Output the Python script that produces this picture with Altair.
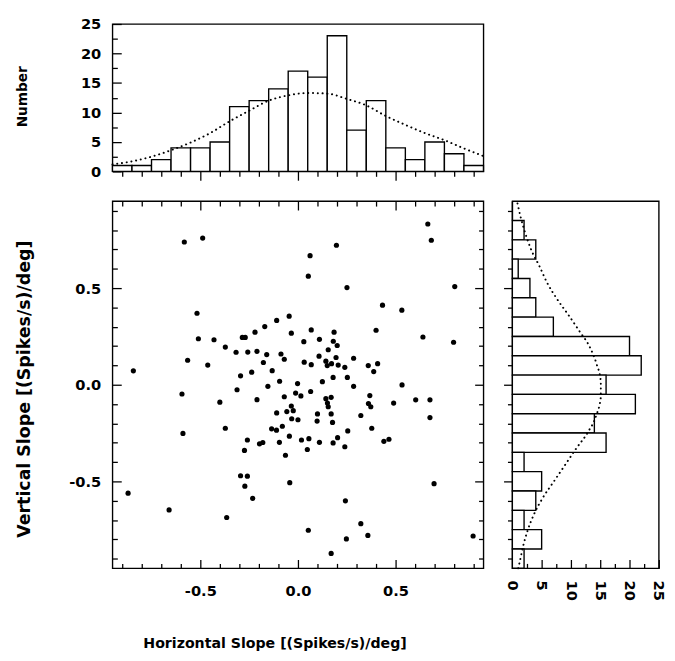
import altair as alt
import pandas as pd

# ---------------- data ----------------
# top histogram: horizontal slope bins (centres) and counts
HX_CENTERS = [-0.9, -0.8, -0.7, -0.6, -0.5, -0.4, -0.3, -0.2, -0.1, 0.0,
              0.1, 0.2, 0.3, 0.4, 0.5, 0.6, 0.7, 0.8, 0.9]
HX_COUNTS = [1, 1, 2, 4, 4, 5, 11, 12, 14, 17, 16, 23, 7, 12, 4, 2, 5, 3, 1]
# dotted fit curve over the top histogram
HX_FIT_X = [-0.95, -0.85, -0.75, -0.65, -0.55, -0.45, -0.35, -0.25, -0.15, -0.05,
            0.05, 0.15, 0.25, 0.35, 0.45, 0.55, 0.65, 0.75, 0.85, 0.95]
HX_FIT_N = [1.2, 1.7, 2.5, 3.6, 4.9, 6.5, 8.5, 10.3, 12.0, 12.9,
            13.3, 13.2, 12.3, 11.2, 9.4, 7.9, 6.5, 5.3, 3.9, 2.6]

# right histogram: vertical slope bins (centres) and counts
VY_CENTERS = [0.9, 0.8, 0.7, 0.6, 0.5, 0.4, 0.3, 0.2, 0.1, 0.0,
              -0.1, -0.2, -0.3, -0.4, -0.5, -0.6, -0.7, -0.8, -0.9]
VY_COUNTS = [0, 2, 4, 1, 3, 4, 7, 20, 22, 16, 21, 14, 16, 2, 5, 4, 2, 5, 2]
# dotted fit curve beside the right histogram
VY_FIT_Y = [0.95, 0.93, 0.87, 0.785, 0.70, 0.615, 0.53, 0.445, 0.36, 0.275, 0.19, 0.105,
            0.02, -0.065, -0.16, -0.245, -0.33, -0.415, -0.5, -0.585, -0.67, -0.755,
            -0.84, -0.925, -0.95]
VY_FIT_N = [0.8, 0.94, 1.4, 2.2, 3.2, 4.6, 5.9, 7.6, 9.6, 11.5, 13.3, 14.4,
            15.1, 15.1, 14.3, 12.9, 10.9, 9.0, 7.1, 5.2, 3.7, 2.6,
            1.8, 1.2, 1.0]

# scatter points (horizontal slope, vertical slope)
SX = [0.433, -0.045, -0.109, -0.170, -0.220, -0.285, -0.270, -0.430, -0.034, 0.068,
      0.185, 0.400, 0.030, 0.110, 0.181, 0.201, -0.372, -0.317, -0.257, -0.210,
      -0.160, -0.087, -0.070, -0.177, 0.155, 0.108, 0.195, 0.285, 0.032, 0.068,
      0.143, 0.150, 0.172, 0.206, 0.240, 0.360, 0.408, 0.388, -0.132, -0.237,
      -0.294, 0.180, 0.253, 0.125, -0.094, -0.002, -0.154, 0.285, -0.312, 0.065,
      -0.012, 0.015, -0.070, -0.210, -0.400, 0.143, 0.170, 0.151, 0.155, 0.368,
      0.361, 0.373, 0.490, -0.034, -0.024, -0.057, -0.109, 0.100, 0.170, 0.322,
      -0.032, 0.000, 0.098, 0.177, -0.372, -0.135, -0.110, -0.080, 0.378, 0.255,
      -0.044, -0.259, -0.197, -0.180, -0.095, 0.018, 0.056, 0.110, 0.180, 0.203,
      0.240, 0.440, 0.466, -0.274, 0.048, -0.064, -0.294, -0.259, -0.042,
      -0.582, -0.488, -0.517, -0.510, -0.565, -0.462, -0.843,
      0.665, 0.683, 0.197, 0.062, 0.053, 0.251, 0.803, 0.532, 0.640, 0.797,
      -0.594, -0.589, -0.870, -0.660, -0.365, -0.232, -0.272,
      0.533, 0.603, 0.676, 0.676, 0.697, 0.243, 0.053, 0.322, 0.248, 0.358, 0.170, 0.897]
SY = [0.412, 0.355, 0.333, 0.301, 0.272, 0.245, 0.245, 0.233, 0.267, 0.284,
      0.272, 0.282, 0.223, 0.235, 0.225, 0.203, 0.195, 0.168, 0.169, 0.173,
      0.156, 0.159, 0.132, 0.115, 0.181, 0.148, 0.141, 0.137, 0.117, 0.104,
      0.122, 0.099, 0.109, 0.102, 0.090, 0.099, 0.109, 0.068, 0.073, 0.065,
      0.046, 0.038, 0.038, 0.016, 0.018, 0.006, -0.008, -0.008, -0.026, -0.035,
      -0.043, -0.058, -0.062, -0.077, -0.090, -0.072, -0.065, -0.095, -0.114, -0.056,
      -0.097, -0.114, -0.095, -0.110, -0.134, -0.139, -0.146, -0.151, -0.151, -0.159,
      -0.176, -0.181, -0.188, -0.195, -0.225, -0.228, -0.235, -0.215, -0.225, -0.239,
      -0.266, -0.286, -0.306, -0.299, -0.298, -0.286, -0.279, -0.298, -0.301, -0.274,
      -0.321, -0.293, -0.282, -0.340, -0.335, -0.365, -0.471, -0.473, -0.507,
      0.739, 0.759, 0.370, 0.238, 0.127, 0.102, 0.072,
      0.832, 0.748, 0.722, 0.668, 0.562, 0.503, 0.508, 0.386, 0.247, 0.220,
      -0.048, -0.252, -0.561, -0.648, -0.687, -0.588, -0.525,
      -0.001, -0.078, -0.078, -0.170, -0.512, -0.601, -0.753, -0.719, -0.798, -0.780, -0.873, -0.783]

# axis tick values and domains
SLOPE_TICKS = [-0.9, -0.8, -0.7, -0.6, -0.5, -0.4, -0.3, -0.2, -0.1, 0.0,
               0.1, 0.2, 0.3, 0.4, 0.5, 0.6, 0.7, 0.8, 0.9]
COUNT_TICKS = [0, 2.5, 5, 7.5, 10, 12.5, 15, 17.5, 20, 22.5, 25]
SLOPE_DOMAIN = [-0.95, 0.95]
COUNT_DOMAIN = [0, 25]
BIN_HALF = 0.05

# ---------------- styling helpers ----------------
FONT = "DejaVu Sans"
LBL = dict(labelFont=FONT, labelFontSize=15, labelFontWeight="bold", labelColor="black",
           labelOverlap=False, labelFlush=False)
TTL = dict(titleFont=FONT, titleFontWeight="bold", titleColor="black",
           titleBaseline="middle", titleAlign="center")

SLOPE_MAJOR = "abs(datum.value * 2 - round(datum.value * 2)) < 0.001"
COUNT_MAJOR = "abs(datum.value / 5 - round(datum.value / 5)) < 0.001"
SLOPE_TEXT = "(datum.value < -0.001 ? '-' : '') + format(abs(datum.value), '.1f')"
COUNT_TEXT = "format(datum.value, 'd')"


def ax(orient, values, major, inward, label_text=None, pad=0, title=None, **extra):
    big, small = (-9, -5) if inward else (9, 5)
    kw = dict(orient=orient, values=values, domain=False, grid=False, ticks=True,
              tickSize=alt.ExprRef(expr=f"{major} ? {big} : {small}"),
              tickColor="black", tickWidth=1.3, title=title)
    if label_text:
        kw.update(labels=True, labelExpr=f"{major} ? {label_text} : ''",
                  labelPadding=pad, **LBL)
    else:
        kw.update(labels=False)
    if title:
        kw.update(TTL)
    kw.update(extra)
    return alt.Axis(**kw)


xs = alt.Scale(domain=SLOPE_DOMAIN, nice=False, zero=False)
ys = alt.Scale(domain=SLOPE_DOMAIN, nice=False, zero=False)
ns = alt.Scale(domain=COUNT_DOMAIN, nice=False)
nsx = alt.Scale(domain=COUNT_DOMAIN, nice=False)

BAR = dict(fill="white", stroke="black", strokeWidth=1.4)
DOT = dict(color="black", strokeWidth=2.0, strokeDash=[0.1, 4.8], strokeCap="round",
           interpolate="monotone")

# ---------------- top histogram ----------------
top_x = ax("bottom", SLOPE_TICKS, SLOPE_MAJOR, inward=False)
top_y = ax("left", COUNT_TICKS, COUNT_MAJOR, inward=True, label_text=COUNT_TEXT, pad=21,
           title="Number", titleFontSize=14, titleX=-92, titleY=74)

top_df = pd.DataFrame({"c": HX_CENTERS, "n": HX_COUNTS})
top_bars = alt.Chart(top_df).transform_calculate(
    lo=f"datum.c - {BIN_HALF}", hi=f"datum.c + {BIN_HALF}", z="0"
).mark_rect(**BAR).encode(
    x=alt.X("lo:Q", scale=xs, axis=top_x), x2="hi:Q",
    y=alt.Y("n:Q", scale=ns, axis=top_y), y2="z:Q",
)
top_fit = alt.Chart(pd.DataFrame({"x": HX_FIT_X, "n": HX_FIT_N})).mark_line(**DOT).encode(
    x=alt.X("x:Q", scale=xs, axis=top_x),
    y=alt.Y("n:Q", scale=ns, axis=top_y),
)
top = alt.layer(top_bars, top_fit).properties(width=380, height=151)

# ---------------- blank corner ----------------
blank = alt.Chart(pd.DataFrame({"a": [0]})).mark_point(opacity=0, size=1).encode(
    x=alt.X("a:Q", axis=None), y=alt.Y("a:Q", axis=None)
).properties(width=150, height=151, view=alt.ViewBackground(strokeOpacity=0))

# ---------------- scatter ----------------
pts = pd.DataFrame({"x": SX, "y": SY})
sc_bottom = ax("bottom", SLOPE_TICKS, SLOPE_MAJOR, inward=True, label_text=SLOPE_TEXT, pad=25,
               title="Horizontal Slope [(Spikes/s)/deg]", titleFontSize=14.5,
               titleX=166, titleY=77)
sc_left = ax("left", SLOPE_TICKS, SLOPE_MAJOR, inward=True, label_text=SLOPE_TEXT, pad=21,
             title="Vertical Slope [(Spikes/s)/deg]", titleFontSize=17.8,
             titleX=-90, titleY=192)
sc_top = ax("top", SLOPE_TICKS, SLOPE_MAJOR, inward=True)
sc_right = ax("right", SLOPE_TICKS, SLOPE_MAJOR, inward=True)

pts_main = alt.Chart(pts).mark_circle(color="black", size=28, opacity=1).encode(
    x=alt.X("x:Q", scale=xs, axis=sc_bottom),
    y=alt.Y("y:Q", scale=ys, axis=sc_left),
)
pts_ghost = alt.Chart(pts).mark_circle(opacity=0).encode(
    x=alt.X("x:Q", scale=xs, axis=sc_top),
    y=alt.Y("y:Q", scale=ys, axis=sc_right),
)
scatter = alt.layer(pts_main, pts_ghost).resolve_axis(
    x="independent", y="independent"
).properties(width=380, height=376)

# ---------------- right histogram ----------------
rh_x = ax("bottom", COUNT_TICKS, COUNT_MAJOR, inward=True, label_text=COUNT_TEXT, pad=21,
          labelAngle=90, labelAlign="left", labelBaseline="middle")
rh_y = ax("left", SLOPE_TICKS, SLOPE_MAJOR, inward=False)

rh_df = pd.DataFrame({"c": VY_CENTERS, "n": VY_COUNTS})
rh_bars = alt.Chart(rh_df).transform_calculate(
    lo=f"datum.c - {BIN_HALF}", hi=f"datum.c + {BIN_HALF}", z="0"
).mark_rect(**BAR).encode(
    x=alt.X("z:Q", scale=nsx, axis=rh_x), x2="n:Q",
    y=alt.Y("lo:Q", scale=ys, axis=rh_y), y2="hi:Q",
)
rh_fit = alt.Chart(pd.DataFrame({"y": VY_FIT_Y, "n": VY_FIT_N})).mark_line(**DOT).encode(
    x=alt.X("n:Q", scale=nsx, axis=rh_x),
    y=alt.Y("y:Q", scale=ys, axis=rh_y),
    order=alt.Order("y:Q"),
)
right = alt.layer(rh_bars, rh_fit).properties(width=150, height=376)

chart = alt.concat(
    top, blank, scatter, right, columns=2, align="each",
    spacing={"row": 14.5, "column": 13.6},
).properties(
    padding={"left": 7, "top": 0.5, "right": 0, "bottom": 0},
    background="white",
).configure_view(stroke="black", strokeWidth=1.4)

chart.save("out.html", embed_options={"renderer": "svg", "actions": False})
